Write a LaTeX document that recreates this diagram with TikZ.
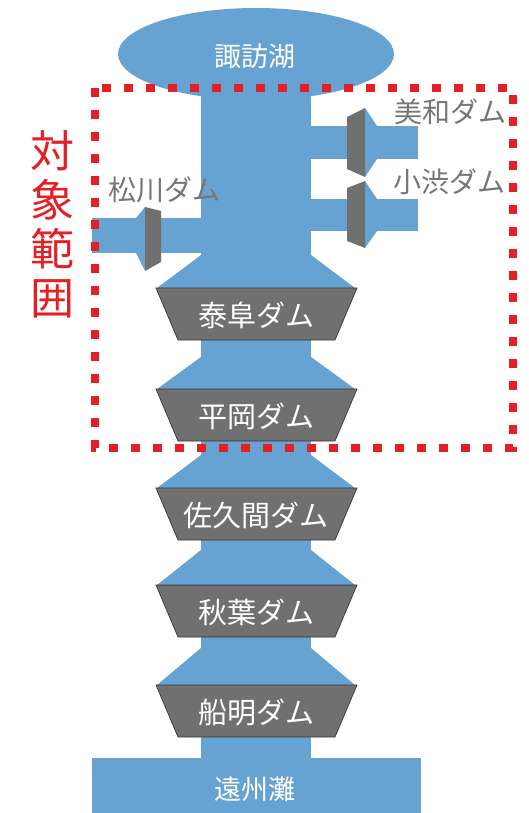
\documentclass[tikz,border=0pt]{standalone}
\usepackage{fontspec}
\newfontfamily\jp{Noto Sans CJK JP}
\definecolor{river}{RGB}{103,163,210}
\definecolor{damgray}{RGB}{112,112,112}
\definecolor{damedge}{RGB}{55,55,55}
\definecolor{labelgray}{RGB}{118,118,118}
\definecolor{areared}{RGB}{228,32,36}
\begin{document}
\begin{tikzpicture}[x=1pt,y=-1pt,
  water/.style={fill=river,draw=none},
  damshape/.style={fill=damgray,draw=damedge,line width=0.7pt},
  sidedam/.style={fill=damgray,draw=none},
  damlabel/.style={text=white,font=\jp\fontsize{29}{29}\selectfont,inner sep=0pt},
  sidelabel/.style={text=labelgray,font=\jp\fontsize{28}{28}\selectfont,inner sep=0pt},
  waterlabel/.style={text=white,font=\jp\fontsize{27}{27}\selectfont,inner sep=0pt},
  area/.style={draw=areared,line width=8pt,dash pattern=on 9pt off 13pt}]
\useasboundingbox (0,0) rectangle (529,813);
\fill[white] (0,0) rectangle (529,813);
% lake, trunk and sea
\fill[water] (256,54) ellipse [x radius=138pt, y radius=46pt];
\fill[water] (201,54) rectangle (311,770);
\fill[water] (92,758) rectangle (421,813);
% main dams with reservoirs
\foreach \F/\T/\nm/\lab in {255/288/yasuoka/泰阜ダム,357/389/hiraoka/平岡ダム,455/488/sakuma/佐久間ダム,550/585/akiba/秋葉ダム,648/685/funagira/船明ダム}{
  \fill[water] (201,\F) -- (311,\F) -- (355,\T) -- (157,\T) -- cycle;
  \draw[damshape] (156,\T) -- (357,\T) -- (335,\T+52) -- (178,\T+52) -- cycle;
  \node[damlabel] (\nm) at (256,\T+27) {\lab};
}
% left branch (Matsukawa)
\fill[water] (92,218) rectangle (201,253);
\fill[water] (136,218) -- (145,207) -- (145,271) -- (136,253) -- cycle;
\fill[sidedam] (145,207) -- (161,211) -- (161,262) -- (145,271) -- cycle;
% right branches (Miwa, Koshibu)
\fill[water] (311,126) rectangle (418,159);
\fill[water] (311,199) rectangle (418,231);
\fill[water] (365,108) -- (377,126) -- (377,159) -- (365,177) -- cycle;
\fill[water] (365,181) -- (377,199) -- (377,231) -- (365,248) -- cycle;
\fill[sidedam] (347,117) -- (365,108) -- (365,177) -- (347,169) -- cycle;
\fill[sidedam] (347,188) -- (365,181) -- (365,248) -- (347,241) -- cycle;
% labels
\node[waterlabel] (suwa) at (255,56) {諏訪湖};
\node[waterlabel] (enshu) at (255,789) {遠州灘};
\node[sidelabel] (miwa) at (450,112) {美和ダム};
\node[sidelabel] (koshibu) at (449,182) {小渋ダム};
\node[sidelabel] (matsukawa) at (164,190) {松川ダム};
% target area
\draw[area] (95,88) rectangle (513,448);
\node[text=areared,font=\jp\fontsize{44}{49}\selectfont,align=center,inner sep=0pt] (target) at (52,224) {対\\象\\範\\囲};
\end{tikzpicture}
\end{document}
